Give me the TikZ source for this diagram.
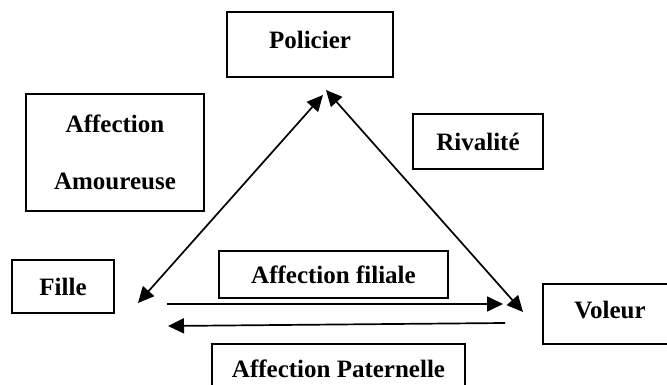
\documentclass[tikz,border=0pt]{standalone}
\usepackage{fontspec}
\setmainfont{Liberation Serif}
\usetikzlibrary{arrows.meta}

\begin{document}
\begin{tikzpicture}[x=1pt, y=-1pt,
        box/.style={draw, rectangle, line width=1.9pt, inner sep=0pt, font=\bfseries\fontsize{25}{29}\selectfont},
        link/.style={line width=1.7pt, -{Triangle[length=16pt,width=15pt]}},
        linkboth/.style={line width=1.7pt, {Triangle[length=16pt,width=15pt]}-{Triangle[length=16pt,width=15pt]}}]
        \clip (0,0) rectangle (667,385);

        \node[box, minimum width=166pt, minimum height=65pt, text depth=10pt] (policier) at (310,44.5) {Policier};
        \node[box, minimum width=178pt, minimum height=117pt, align=center] (amour) at (115,152.5) {Affection\\[28pt]Amoureuse};
        \node[box, minimum width=130pt, minimum height=55pt] (rivalite) at (478,141.5) {Rivalité};
        \node[box, minimum width=102pt, minimum height=53pt] (fille) at (63,286.5) {Fille};
        \node[box, minimum width=229pt, minimum height=47pt] (filiale) at (333.5,274.5) {Affection filiale};
        \node[box, minimum width=134pt, minimum height=60pt, text depth=8pt] (voleur) at (610,314) {Voleur};
        \node[box, minimum width=253pt, minimum height=50pt] (paternelle) at (338.5,369) {Affection Paternelle};

        % arrow ends
        \coordinate (fille-d) at (138,303);
        \coordinate (policier-g) at (323,95);
        \coordinate (policier-d) at (326,90);
        \coordinate (voleur-d) at (523,312);
        \coordinate (fille-h) at (167,304);
        \coordinate (voleur-h) at (503,304);
        \coordinate (voleur-b) at (505,323);
        \coordinate (fille-b) at (168,326);

        \draw[linkboth] (fille-d) -- (policier-g);
        \draw[linkboth] (policier-d) -- (voleur-d);
        \draw[link] (fille-h) -- (voleur-h);
        \draw[link] (voleur-b) -- (fille-b);
    \end{tikzpicture}
\end{document}
